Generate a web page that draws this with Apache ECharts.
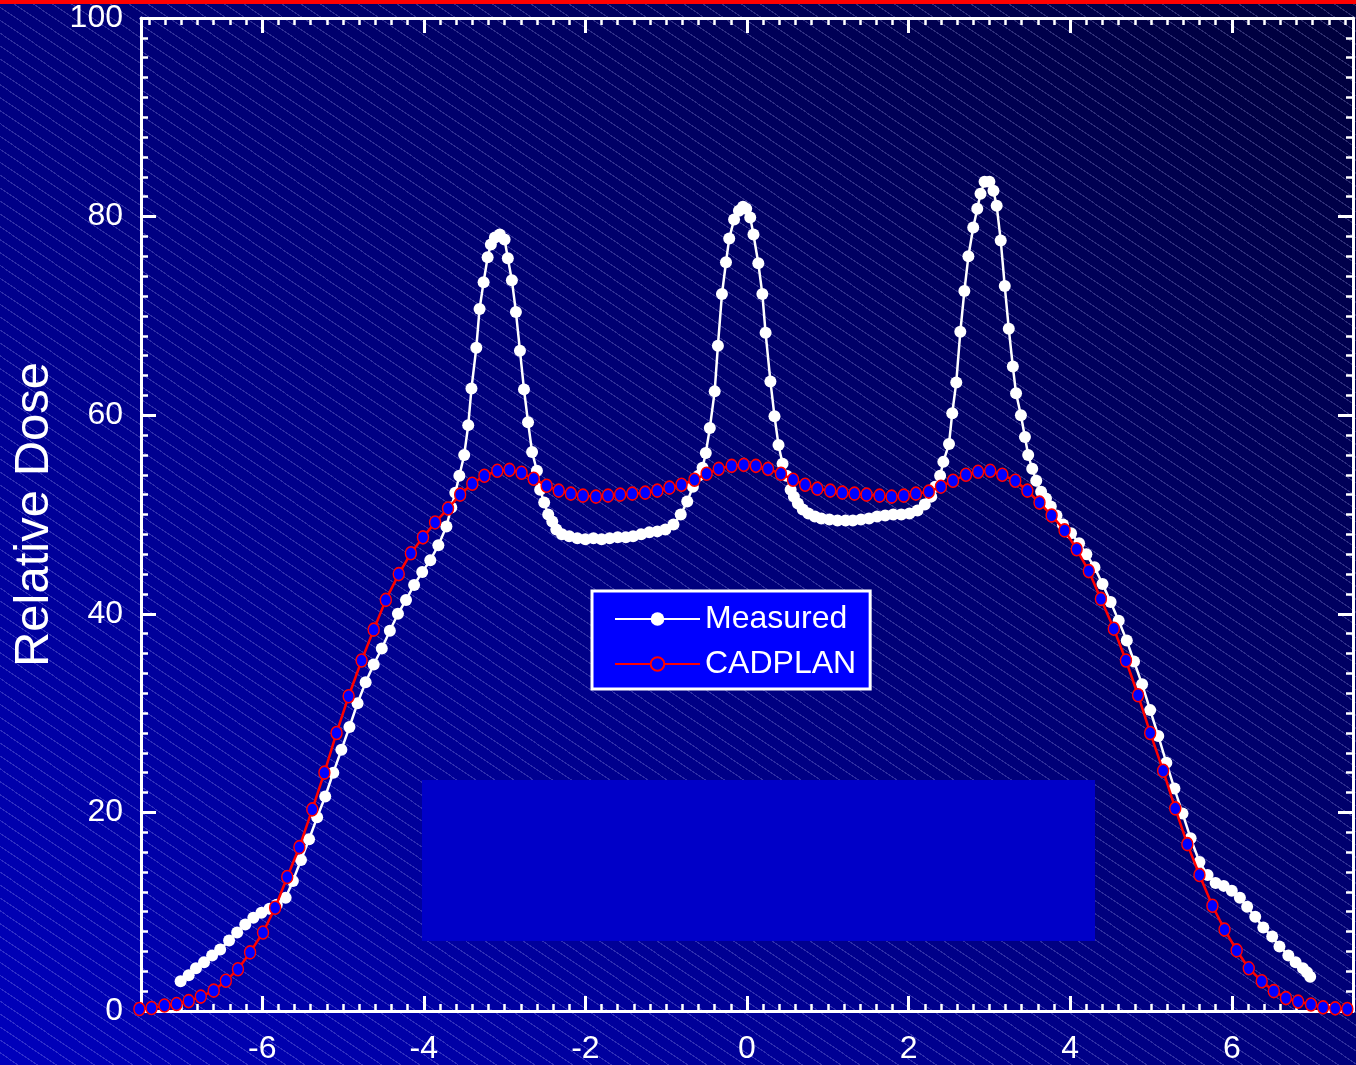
<!DOCTYPE html>
<html><head><meta charset="utf-8">
<script src="https://cdn.jsdelivr.net/npm/echarts@6/dist/echarts.min.js"></script>
<style>
html,body{margin:0;padding:0;background:#000060;}
#wrap{position:relative;width:1356px;height:1065px;overflow:hidden;
background:
 repeating-linear-gradient(34deg, rgba(255,255,255,0) 0px, rgba(255,255,255,0) 9.6px, rgba(190,190,255,0.24) 9.6px, rgba(190,190,255,0.24) 10.7px),
 linear-gradient(to top right, #0000bc, #00003a);}
#chart{position:absolute;left:0;top:0;width:1356px;height:1065px;}
</style></head>
<body><div id="wrap"><div id="chart"></div></div>
<script>
// ---- data ----
const measured = [
[-7.01,3.0],[-6.91,3.6],[-6.82,4.3],[-6.72,4.9],[-6.62,5.6],[-6.52,6.2],[-6.41,7.1],[-6.31,7.9],
[-6.21,8.7],[-6.11,9.4],[-6.01,9.9],[-5.91,10.3],[-5.82,10.7],[-5.71,11.4],[-5.62,13.1],[-5.52,15.2],
[-5.42,17.3],[-5.32,19.5],[-5.22,21.6],[-5.12,24.0],[-5.02,26.3],[-4.92,28.6],[-4.82,31.0],[-4.72,33.1],
[-4.62,34.9],[-4.52,36.5],[-4.42,38.3],[-4.32,40.0],[-4.22,41.4],[-4.12,42.9],[-4.02,44.2],[-3.92,45.4],
[-3.82,46.9],[-3.72,48.8],[-3.66,50.7],[-3.61,52.2],[-3.56,53.9],[-3.50,56.0],[-3.45,59.0],[-3.41,62.7],
[-3.35,66.8],[-3.31,70.7],[-3.26,73.4],[-3.21,75.9],[-3.17,77.2],[-3.12,77.9],[-3.06,78.2],[-3.00,77.7],
[-2.96,75.8],[-2.91,73.6],[-2.86,70.4],[-2.81,66.5],[-2.76,62.6],[-2.71,59.3],[-2.66,56.3],[-2.60,54.4],
[-2.56,52.5],[-2.51,51.2],[-2.46,50.0],[-2.41,49.3],[-2.36,48.5],[-2.29,48.0],[-2.20,47.8],[-2.10,47.6],
[-2.00,47.5],[-1.90,47.6],[-1.80,47.5],[-1.70,47.6],[-1.60,47.7],[-1.50,47.7],[-1.41,47.8],[-1.31,48.0],
[-1.21,48.2],[-1.11,48.3],[-1.01,48.5],[-0.91,49.0],[-0.82,50.0],[-0.74,51.3],[-0.67,52.8],[-0.60,53.9],
[-0.55,54.7],[-0.51,56.2],[-0.46,58.7],[-0.40,62.4],[-0.36,67.0],[-0.31,72.2],[-0.26,75.4],[-0.22,77.8],
[-0.16,79.7],[-0.10,80.6],[-0.05,81.0],[-0.01,80.8],[0.04,79.9],[0.08,78.2],[0.14,75.3],[0.19,72.2],
[0.23,68.3],[0.29,63.4],[0.34,59.9],[0.39,57.0],[0.44,55.1],[0.49,53.9],[0.54,52.5],[0.58,51.8],
[0.63,51.1],[0.69,50.5],[0.76,50.1],[0.84,49.8],[0.92,49.6],[1.02,49.5],[1.12,49.4],[1.22,49.4],
[1.31,49.4],[1.41,49.5],[1.51,49.6],[1.61,49.8],[1.71,49.9],[1.81,50.0],[1.91,50.0],[2.01,50.1],
[2.11,50.4],[2.20,51.0],[2.28,51.8],[2.33,52.8],[2.39,53.9],[2.43,55.3],[2.50,57.1],[2.54,60.2],
[2.59,63.3],[2.64,68.4],[2.69,72.5],[2.74,76.0],[2.80,78.9],[2.85,80.8],[2.89,82.3],[2.94,83.5],
[3.00,83.5],[3.05,82.6],[3.09,81.1],[3.14,77.6],[3.19,73.0],[3.24,68.7],[3.29,64.9],[3.33,62.2],
[3.39,60.0],[3.44,57.8],[3.48,56.0],[3.53,54.6],[3.58,53.4],[3.64,52.3],[3.70,51.6],[3.76,50.8],
[3.83,49.9],[3.91,49.0],[4.01,48.1],[4.11,47.1],[4.20,46.0],[4.30,44.7],[4.40,43.0],[4.50,41.2],
[4.60,39.3],[4.70,37.3],[4.79,35.2],[4.89,32.9],[4.99,30.3],[5.09,27.7],[5.19,25.0],[5.29,22.4],
[5.39,19.9],[5.49,17.4],[5.60,15.0],[5.70,13.7],[5.80,12.9],[5.90,12.6],[6.00,12.1],[6.10,11.4],
[6.19,10.5],[6.29,9.5],[6.39,8.4],[6.50,7.5],[6.59,6.5],[6.70,5.6],[6.79,4.9],[6.88,4.3],
[6.93,3.9],[6.97,3.45]
];
const cadplan = [
[-7.52,0.2],[-7.37,0.3],[-7.21,0.55],[-7.06,0.7],[-6.91,1.0],[-6.76,1.45],[-6.60,2.05],[-6.45,3.05],
[-6.30,4.2],[-6.15,5.9],[-5.99,7.9],[-5.84,10.4],[-5.69,13.5],[-5.54,16.5],[-5.38,20.3],[-5.23,24.0],
[-5.08,28.0],[-4.93,31.7],[-4.77,35.3],[-4.62,38.4],[-4.47,41.4],[-4.31,44.0],[-4.16,46.1],[-4.01,47.7],
[-3.86,49.2],[-3.70,50.6],[-3.55,52.0],[-3.40,53.1],[-3.25,53.9],[-3.09,54.4],[-2.94,54.5],[-2.79,54.2],
[-2.64,53.6],[-2.48,52.9],[-2.33,52.4],[-2.18,52.1],[-2.03,51.9],[-1.87,51.8],[-1.72,51.9],[-1.57,52.0],
[-1.42,52.1],[-1.26,52.2],[-1.11,52.4],[-0.96,52.7],[-0.81,53.0],[-0.65,53.5],[-0.50,54.1],[-0.35,54.6],
[-0.19,54.9],[-0.04,55.0],[0.11,54.9],[0.26,54.6],[0.42,54.1],[0.57,53.5],[0.72,53.0],[0.87,52.6],
[1.03,52.4],[1.18,52.2],[1.33,52.1],[1.48,52.0],[1.64,51.9],[1.79,51.8],[1.94,51.9],[2.09,52.1],
[2.25,52.3],[2.40,52.8],[2.55,53.4],[2.71,54.0],[2.86,54.3],[3.01,54.4],[3.16,54.0],[3.32,53.4],
[3.47,52.4],[3.62,51.2],[3.77,49.9],[3.93,48.4],[4.08,46.5],[4.23,44.3],[4.38,41.5],[4.54,38.5],
[4.69,35.3],[4.84,31.8],[4.99,28.0],[5.15,24.2],[5.30,20.4],[5.45,16.8],[5.60,13.7],[5.76,10.6],
[5.91,8.2],[6.06,6.1],[6.21,4.3],[6.37,3.0],[6.52,2.0],[6.67,1.3],[6.82,0.95],[6.98,0.65],
[7.13,0.37],[7.28,0.27],[7.43,0.2]
];
const seriesNames = ['Measured', 'CADPLAN'];
const xMajorTicks = [-6, -4, -2, 0, 2, 4, 6];
const xMinorTicks = [];
for (let k = -37; k <= 37; k++) xMinorTicks.push(+(k * 0.2).toFixed(1));
const yAxisName = 'Relative Dose';

// ---- chart ----
const FONT = 'Liberation Sans, Arial, sans-serif';
const W = '#ffffff';
const chart = echarts.init(document.getElementById('chart'), null, {renderer: 'canvas'});

function xAx(pos, major) {
  return {
    type: 'value', position: pos, min: -7.5, max: 7.5,
    axisLine: {show: major, onZero: false, lineStyle: {color: W, width: 3}},
    axisTick: {show: true, inside: true, length: major ? 15 : 7,
      customValues: major ? xMajorTicks : xMinorTicks,
      lineStyle: {color: W, width: major ? 3 : 2.5}},
    axisLabel: {show: major && pos === 'bottom', customValues: xMajorTicks, color: W,
      fontSize: 32, fontFamily: FONT, margin: 22},
    splitLine: {show: false}
  };
}
function yAx(pos) {
  const left = pos === 'left';
  return {
    type: 'value', position: pos, min: 0, max: 100, interval: 20,
    axisLine: {show: true, onZero: false, lineStyle: {color: W, width: 3}},
    axisTick: {show: true, inside: true, length: 15, lineStyle: {color: W, width: 3}},
    minorTick: {show: true, splitNumber: 10, length: 7, lineStyle: {color: W, width: 2.5}},
    axisLabel: {show: left, color: W, fontSize: 32, fontFamily: FONT, margin: 18},
    name: left ? yAxisName : '', nameLocation: 'middle', nameGap: 77,
    nameTextStyle: {color: W, fontSize: 49, fontFamily: FONT},
    splitLine: {show: false}, minorSplitLine: {show: false}
  };
}

chart.setOption({
  animation: false,
  backgroundColor: 'transparent',
  grid: {left: 141, right: 3, top: 18, bottom: 52, containLabel: false},
  xAxis: [xAx('bottom', true), xAx('bottom', false), xAx('top', true), xAx('top', false)],
  yAxis: [yAx('left'), yAx('right')],
  legend: {
    data: seriesNames, orient: 'vertical', left: 592, top: 591,
    padding: [12, 14, 9, 22], itemGap: 13, itemWidth: 85, itemHeight: 17,
    backgroundColor: '#0000ff', borderColor: W, borderWidth: 3, borderRadius: 0,
    textStyle: {color: W, fontSize: 32, fontFamily: FONT},
    selectedMode: false
  },
  graphic: [
    {type: 'rect', shape: {x: 422, y: 780, width: 673, height: 161}, style: {fill: '#0000c8'}, z: 1, silent: true},
    {type: 'rect', shape: {x: 0, y: 0, width: 1356, height: 4}, style: {fill: '#ff0000'}, z: 100, silent: true}
  ],
  series: [
    {
      name: seriesNames[0], type: 'line', xAxisIndex: 0, yAxisIndex: 0, data: measured,
      symbol: 'circle', symbolSize: 12, showAllSymbol: true, clip: false,
      itemStyle: {color: W}, lineStyle: {color: W, width: 2.5}, z: 3
    },
    {
      name: seriesNames[1], type: 'line', xAxisIndex: 0, yAxisIndex: 0, data: cadplan,
      symbol: 'circle', symbolSize: [11, 13], showAllSymbol: true, clip: false,
      itemStyle: {color: '#0000ff', borderColor: '#ff0000', borderWidth: 1.5},
      lineStyle: {color: '#ff0000', width: 2.5}, z: 4
    }
  ]
});
</script>
</body></html>
